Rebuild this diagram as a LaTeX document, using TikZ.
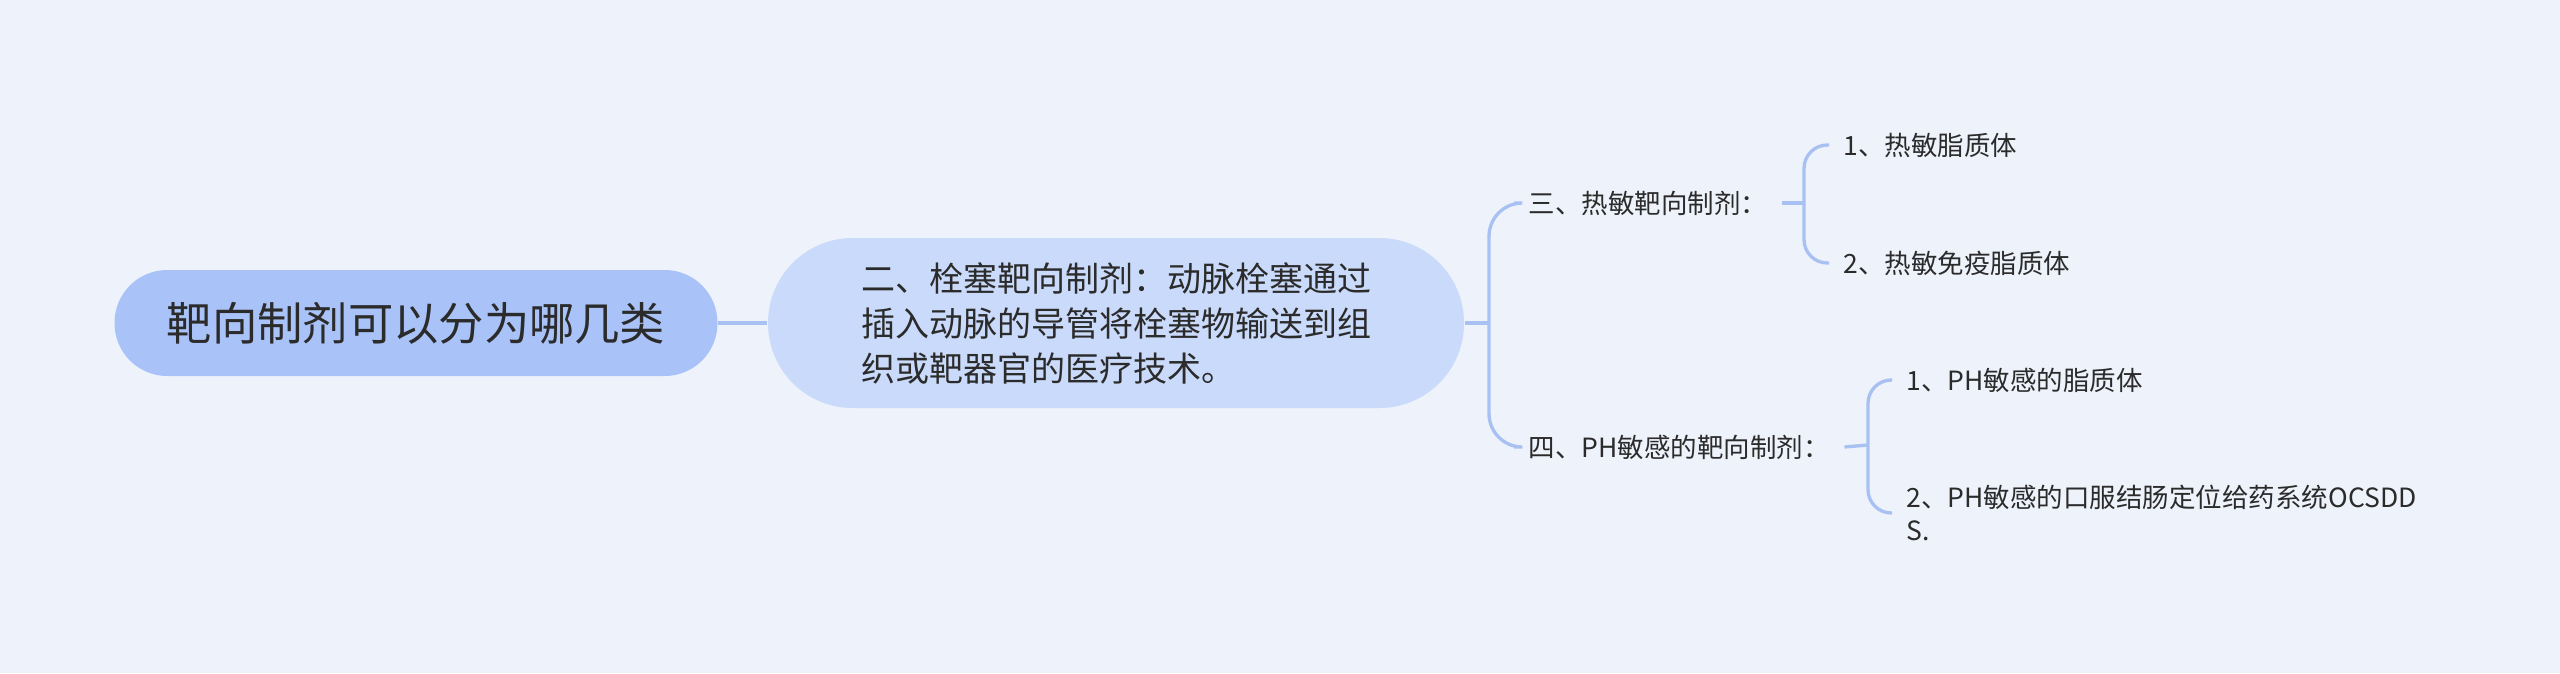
\documentclass[tikz,border=0pt]{standalone}
\usepackage{fontspec}
\setmainfont{Noto Sans CJK SC}
\usetikzlibrary{positioning}
\usetikzlibrary{calc}
\definecolor{bgblue}{HTML}{EEF3FB}
\definecolor{rootblue}{HTML}{A9C3F9}
\definecolor{subblue}{HTML}{CADAFA}
\definecolor{linkblue}{HTML}{A8C1F2}
\definecolor{inkgray}{HTML}{2B2B2B}

\begin{document}
\begin{tikzpicture}
    [x=0.3pt, y=-0.3pt,
    root/.style={fill=rootblue, rounded corners=15.8pt, minimum width=180.9pt, minimum height=31.8pt, text=inkgray, font=\fontsize{13.6}{17}\selectfont},
    topic/.style={fill=subblue, rounded corners=25.4pt, minimum width=208.8pt, minimum height=51pt, align=left, text=inkgray, font=\fontsize{10.2}{13.5}\selectfont},
    leaf/.style={anchor=west, inner xsep=4.2pt, inner ysep=2pt, align=left, text=inkgray, font=\fontsize{7.95}{10}\selectfont},
    link/.style={draw=linkblue, line width=1pt, rounded corners=7pt}]
    \fill[bgblue] (0,0) rectangle (2560,673);
    \useasboundingbox (0,0) rectangle (2560,673);
    \node[root] (R) at (416,323) {靶向制剂可以分为哪几类};
    \node[topic] (T2) at (1116,323) {二、栓塞靶向制剂：动脉栓塞通过\\插入动脉的导管将栓塞物输送到组\\织或靶器官的医疗技术。};
    \node[leaf] (B3) at (1514,203) {三、热敏靶向制剂：};
    \node[leaf] (B4) at (1514,447) {四、PH敏感的靶向制剂：};
    \node[leaf] (L31) at (1829,145) {1、热敏脂质体};
    \node[leaf] (L32) at (1829,263) {2、热敏免疫脂质体};
    \node[leaf] (L41) at (1892,380) {1、PH敏感的脂质体};
    \node[leaf] (L42) at (1892,513) {2、PH敏感的口服结肠定位给药系统OCSDD\\S.};
    \coordinate (J2) at (1489,323);
    \coordinate (J3) at (1804,203);
    \coordinate (J4) at (1868,445);
    \draw[link] (R) -- (T2);
    \draw[link] (T2.east) -- (J2);
    \draw[link, rounded corners=10pt] (B3.west) -| (J2) |- (B4.west);
    \draw[link] (B3.east) -- (J3);
    \draw[link] (L31.west) -| (J3) |- (L32.west);
    \draw[link] (B4.east) -- (J4);
    \draw[link] (L41.west) -| (J4) |- (L42.west);
\end{tikzpicture}
\end{document}
